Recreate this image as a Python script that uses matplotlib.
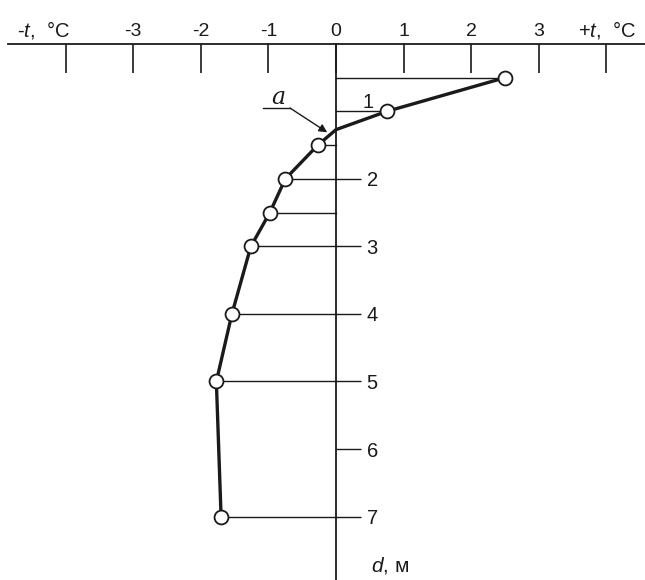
import matplotlib
matplotlib.use("Agg")
import matplotlib.pyplot as plt

# Data: temperature profile (°C) vs depth (m)
temps = [2.5, 0.75, -0.27, -0.75, -0.98, -1.26, -1.54, -1.77, -1.70]
depths = [0.5, 1.0, 1.5, 2.0, 2.5, 3.0, 4.0, 5.0, 7.0]
# zero-crossing point "a"
a_temp, a_depth = 0.0, 1.27

temp_ticks = [-4, -3, -2, -1, 0, 1, 2, 3, 4]
temp_labels = ["", "-3", "-2", "-1", "0", "1", "2", "3", ""]
depth_ticks = [2, 3, 4, 5, 6, 7]
depth_labels = ["2", "3", "4", "5", "6", "7"]

plt.rcParams['font.family'] = ['Liberation Sans', 'DejaVu Sans']
plt.rcParams['mathtext.fontset'] = 'custom'
plt.rcParams['mathtext.it'] = 'Liberation Sans:italic'
plt.rcParams['mathtext.rm'] = 'Liberation Sans'
fig = plt.figure(figsize=(6.45, 5.8), dpi=100)
ax = fig.add_axes([0, 0, 1, 1])
ax.set_xlim(-4.97, 4.57)
ax.set_ylim(7.94, -0.65)

ink = '#1a1a1a'

for s in ['left', 'bottom']:
    ax.spines[s].set_visible(False)
ax.spines['top'].set_position(('data', 0))
ax.spines['right'].set_position(('data', 0))
ax.spines['top'].set_linewidth(1.3)
ax.spines['right'].set_linewidth(1.3)
ax.spines['top'].set_color(ink)
ax.spines['right'].set_color(ink)
ax.spines['top'].set_bounds(-4.85, 4.57)
ax.spines['right'].set_bounds(0, 7.94)

ax.xaxis.tick_top()
ax.set_xticks(temp_ticks)
ax.set_xticklabels(temp_labels, fontsize=14, color=ink)
ax.tick_params(axis='x', direction='in', length=21, width=1.2, colors=ink, pad=2.5)

ax.yaxis.tick_right()
ax.set_yticks(depth_ticks)
ax.set_yticklabels(depth_labels, fontsize=14.5, color=ink)
ax.tick_params(axis='y', direction='out', length=18, width=1.0, colors=ink, pad=4)

ax.text(-4.96 + 0.24, -0.11, "-$t$,  °C", fontsize=14.5, ha='left', va='baseline', color=ink)
ax.text(3.58, -0.11, "+$t$,  °C", fontsize=14.5, ha='left', va='baseline', color=ink)
ax.text(0.47, 0.87, "1", fontsize=14.5, ha='center', va='center', color=ink)
ax.text(0.80, 7.72, "$d$, м", fontsize=15, ha='center', va='center', color=ink)

# horizontal lines from each point to the depth axis
for t, d in zip(temps, depths):
    ax.plot([min(t, 0), max(t, 0)], [d, d], color=ink, lw=1.0, zorder=2)

# profile line
line_t = temps[:2] + [a_temp] + temps[2:]
line_d = depths[:2] + [a_depth] + depths[2:]
ax.plot(line_t, line_d, color=ink, lw=2.4, zorder=3, solid_joinstyle='round')
ax.plot(temps, depths, linestyle='none', marker='o', markersize=10,
        markerfacecolor='white', markeredgecolor=ink, markeredgewidth=1.3, zorder=4)

# label "a" with leader arrow
ax.text(-0.86, 0.80, "a", fontsize=17, family='DejaVu Serif', style='italic',
        ha='center', va='center', color=ink)
ax.plot([-1.08, -0.68], [0.95, 0.95], color=ink, lw=1.0)
ax.annotate('', xy=(-0.13, 1.31), xytext=(-0.68, 0.95),
            arrowprops=dict(arrowstyle='-|>', lw=1.0, color=ink,
                            shrinkA=0, shrinkB=0, mutation_scale=12))

fig.savefig('out.png', dpi=100, facecolor='white')
